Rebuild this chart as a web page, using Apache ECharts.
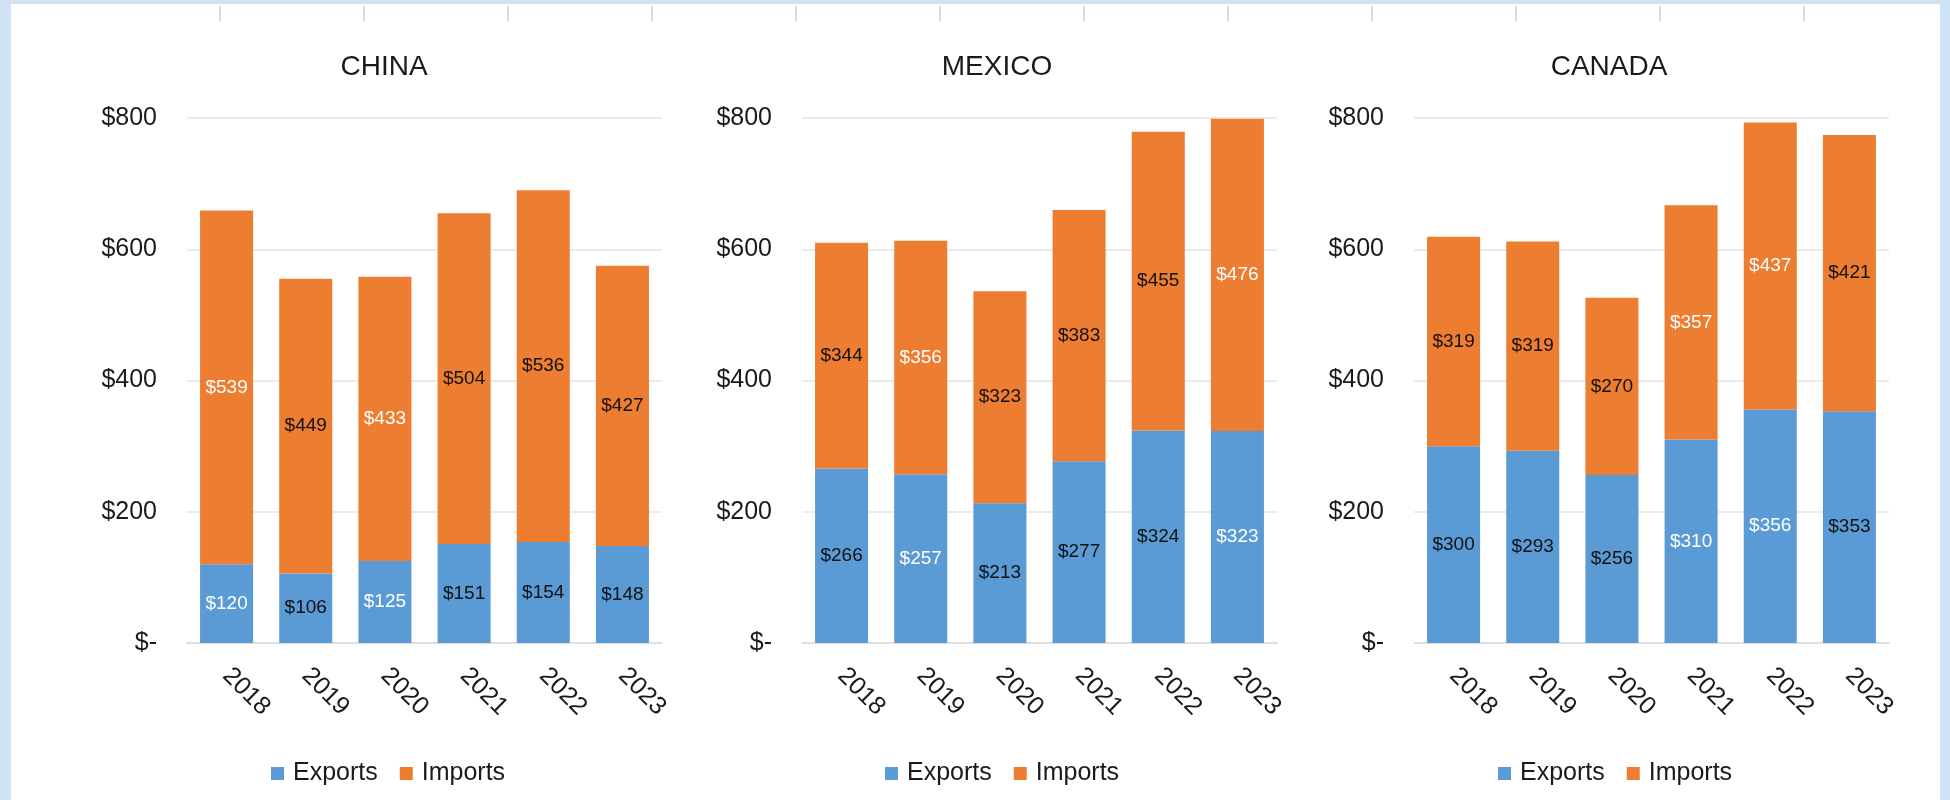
<!DOCTYPE html>
<html>
<head>
<meta charset="utf-8">
<title>Trade: Exports and Imports</title>
<script src="https://cdn.jsdelivr.net/npm/echarts@6/dist/echarts.min.js"></script>
<style>
  html, body { margin: 0; padding: 0; background: #ffffff; }
  #chart { width: 1950px; height: 800px; }
</style>
</head>
<body>
<div id="chart"></div>
<script>
// Years shown on each panel
const years = ['2018', '2019', '2020', '2021', '2022', '2023'];

// Values in billions of dollars
const chinaExports  = [120, 106, 125, 151, 154, 148];
const chinaImports  = [539, 449, 433, 504, 536, 427];
const mexicoExports = [266, 257, 213, 277, 324, 323];
const mexicoImports = [344, 356, 323, 383, 455, 476];
const canadaExports = [300, 293, 256, 310, 356, 353];
const canadaImports = [319, 319, 270, 357, 437, 421];

// Y axis ticks
const yTicks = [0, 200, 400, 600, 800];

// Label text colours for each bar segment (w = white, k = black)
const chinaExportInk  = ['w', 'k', 'w', 'k', 'k', 'k'];
const chinaImportInk  = ['w', 'k', 'w', 'k', 'k', 'k'];
const mexicoExportInk = ['k', 'w', 'k', 'k', 'k', 'w'];
const mexicoImportInk = ['k', 'w', 'k', 'k', 'k', 'w'];
const canadaExportInk = ['k', 'k', 'k', 'w', 'w', 'k'];
const canadaImportInk = ['k', 'k', 'k', 'w', 'w', 'k'];

const BLUE = '#5b9bd5';
const ORANGE = '#ed7d31';
const FONT = '"Liberation Sans", Arial, Helvetica, sans-serif';
const TEXT = '#1a1a1a';
const INK = { w: '#ffffff', k: '#111111' };

const panels = [
  { name: 'CHINA',  exp: chinaExports,  imp: chinaImports,  expInk: chinaExportInk,  impInk: chinaImportInk,
    gridLeft: 187, titleX: 384, legendLeft: 271 },
  { name: 'MEXICO', exp: mexicoExports, imp: mexicoImports, expInk: mexicoExportInk, impInk: mexicoImportInk,
    gridLeft: 802, titleX: 997, legendLeft: 885 },
  { name: 'CANADA', exp: canadaExports, imp: canadaImports, expInk: canadaExportInk, impInk: canadaImportInk,
    gridLeft: 1414, titleX: 1609, legendLeft: 1498 }
];

const GRID_TOP = 118;
const GRID_HEIGHT = 525;
const GRID_WIDTH = 475;

const money = v => (v === 0 ? '$-' : '$' + v);

function segment(values, inks) {
  return values.map((v, i) => ({
    value: v,
    label: { color: INK[inks[i]] }
  }));
}

const option = {
  backgroundColor: '#ffffff',
  animation: false,
  textStyle: { fontFamily: FONT },
  title: panels.map(p => ({
    text: p.name,
    left: p.titleX,
    top: 53,
    textAlign: 'center',
    padding: 0,
    textStyle: { fontFamily: FONT, fontSize: 28, fontWeight: 'normal', color: TEXT }
  })),
  legend: panels.map((p, i) => ({
    show: true,
    left: p.legendLeft,
    top: 761,
    orient: 'horizontal',
    itemWidth: 13,
    itemHeight: 13,
    itemGap: 22,
    padding: 0,
    icon: 'rect',
    data: ['Exports', 'Imports'],
    textStyle: { fontFamily: FONT, fontSize: 25, color: TEXT, padding: [0, 0, 0, 4] }
  })),
  grid: panels.map(p => ({
    left: p.gridLeft,
    top: GRID_TOP,
    width: GRID_WIDTH,
    height: GRID_HEIGHT,
    containLabel: false
  })),
  xAxis: panels.map((p, i) => ({
    type: 'category',
    gridIndex: i,
    data: years,
    axisTick: { show: false },
    axisLine: { show: true, lineStyle: { color: '#dcdcdc', width: 1.5 } },
    axisLabel: {
      rotate: -45,
      margin: 29,
      fontFamily: FONT,
      fontSize: 25,
      color: TEXT
    }
  })),
  yAxis: panels.map((p, i) => ({
    type: 'value',
    gridIndex: i,
    min: yTicks[0],
    max: yTicks[yTicks.length - 1],
    interval: yTicks[1] - yTicks[0],
    axisLine: { show: false },
    axisTick: { show: false },
    splitLine: { show: true, lineStyle: { color: '#e4e4e4', width: 1.5 } },
    axisLabel: {
      margin: 30,
      fontFamily: FONT,
      fontSize: 25,
      color: TEXT,
      formatter: money
    }
  })),
  series: panels.flatMap((p, i) => [
    {
      name: 'Exports',
      type: 'bar',
      stack: 'trade' + i,
      xAxisIndex: i,
      yAxisIndex: i,
      barCategoryGap: '33%',
      itemStyle: { color: BLUE },
      label: {
        show: true,
        position: 'inside',
        fontFamily: FONT,
        fontSize: 19,
        formatter: d => '$' + d.value
      },
      data: segment(p.exp, p.expInk)
    },
    {
      name: 'Imports',
      type: 'bar',
      stack: 'trade' + i,
      xAxisIndex: i,
      yAxisIndex: i,
      barCategoryGap: '33%',
      itemStyle: { color: ORANGE },
      label: {
        show: true,
        position: 'inside',
        fontFamily: FONT,
        fontSize: 19,
        formatter: d => '$' + d.value
      },
      data: segment(p.imp, p.impInk)
    }
  ]),
  graphic: [
    // light blue frame around the sheet
    { type: 'rect', shape: { x: 0, y: 0, width: 11, height: 800 }, style: { fill: '#d0e3f4' }, silent: true },
    { type: 'rect', shape: { x: 0, y: 0, width: 1950, height: 4 }, style: { fill: '#d0e3f4' }, silent: true },
    { type: 'rect', shape: { x: 1940, y: 0, width: 10, height: 800 }, style: { fill: '#d0e3f4' }, silent: true },
    // column separators along the top edge of the sheet
    ...Array.from({ length: 12 }, (_, k) => ({
      type: 'line',
      silent: true,
      shape: { x1: 220 + 144 * k, y1: 6, x2: 220 + 144 * k, y2: 21 },
      style: { stroke: '#cfcfcf', lineWidth: 1.5 }
    }))
  ]
};

const chart = echarts.init(document.getElementById('chart'), null, { renderer: 'canvas' });
chart.setOption(option);
</script>
</body>
</html>
